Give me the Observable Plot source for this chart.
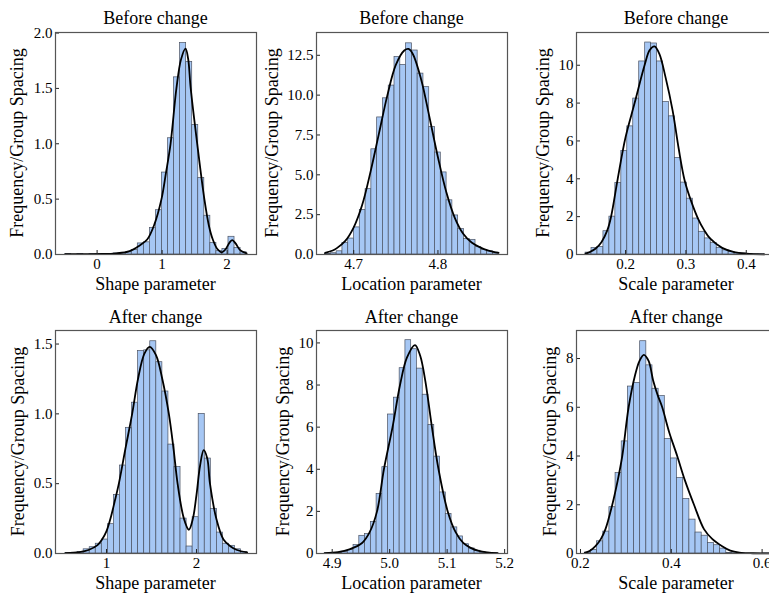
<!DOCTYPE html>
<html><head><meta charset="utf-8">
<script src="https://cdn.jsdelivr.net/npm/d3@7"></script>
<script src="https://cdn.jsdelivr.net/npm/@observablehq/plot@0.6"></script>
<style>
html,body{margin:0;padding:0;background:#fff;overflow:hidden}
#fig{position:relative;width:769px;height:597px;overflow:hidden;background:#fff}
#fig svg{position:absolute;overflow:visible}
</style></head><body><div id="fig"></div>
<script>
// ---------- Data ----------
// Histogram heights (Frequency / group spacing), 30 equal bins per panel
const shapeBeforeBinStart = -0.49, shapeBeforeBinWidth = 0.093;
const shapeBeforeHeights = [0.003,0,0.003,0,0.003,0.005,0.005,0.005,0.01,0.015,0.02,0.04,0.10,0.11,0.24,0.40,0.74,1.05,1.60,1.91,1.74,1.17,0.69,0.35,0.105,0.03,0.05,0.16,0.06,0.02];
const shapeBeforeKdeX = [-0.49,0,0.3,0.5,0.65,0.77,0.88,0.99,1.06,1.13,1.22,1.29,1.36,1.40,1.44,1.54,1.65,1.72,1.78,1.85,1.92,1.98,2.04,2.08,2.13,2.20,2.30];
const shapeBeforeKdeY = [0.003,0.004,0.01,0.03,0.08,0.135,0.27,0.5,0.74,1.0,1.5,1.76,1.86,1.77,1.5,1.0,0.5,0.26,0.135,0.05,0.02,0.05,0.11,0.13,0.10,0.04,0.01];

const locBeforeBinStart = 4.666, locBeforeBinWidth = 0.00687;
const locBeforeHeights = [0.03,0.08,0.2,0.73,1.0,1.7,2.8,4.1,6.6,8.6,9.8,10.6,12.4,11.9,13.25,12.8,11.35,10.5,8.0,6.4,5.15,3.4,2.45,1.6,0.98,0.92,0.46,0.29,0.2,0.12];
const locBeforeKdeX = [4.666,4.675,4.68,4.69,4.70,4.71,4.72,4.73,4.74,4.75,4.76,4.765,4.77,4.78,4.79,4.80,4.81,4.82,4.83,4.84,4.85,4.86,4.872];
const locBeforeKdeY = [0.1,0.25,0.4,0.85,1.7,3.1,5.2,7.6,10.0,11.9,12.8,12.9,12.6,11.0,8.6,6.1,3.9,2.3,1.3,0.75,0.45,0.25,0.1];

const scaleBeforeBinStart = 0.1337, scaleBeforeBinWidth = 0.00988;
const scaleBeforeHeights = [0.1,0.35,0.4,1.23,2.0,3.77,5.47,6.77,8.24,10.2,11.2,11.15,10.2,8.06,7.3,5.1,3.8,2.95,1.9,1.2,0.85,0.6,0.35,0.22,0.13,0.07,0.05,0.03,0.01,0.01];
const scaleBeforeKdeX = [0.1337,0.14,0.15,0.16,0.17,0.176,0.187,0.20,0.215,0.2315,0.24,0.248,0.256,0.266,0.278,0.288,0.298,0.31,0.32,0.33,0.34,0.36,0.38,0.40,0.43];
const scaleBeforeKdeY = [0.05,0.12,0.3,0.65,1.3,2.0,4.0,6.2,8.0,10.0,10.8,11.0,10.6,9.4,7.6,5.6,3.9,2.7,1.9,1.3,0.85,0.35,0.13,0.05,0.01];

const shapeAfterBinStart = 0.544, shapeAfterBinWidth = 0.0673;
const shapeAfterHeights = [0.003,0.005,0.01,0.03,0.045,0.07,0.10,0.21,0.42,0.63,0.90,1.08,1.45,1.455,1.52,1.37,1.16,0.78,0.62,0.25,0.05,0.26,1.0,0.68,0.32,0.15,0.07,0.055,0.03,0.01];
const shapeAfterKdeX = [0.544,0.7,0.8,0.9,0.95,1.0,1.044,1.09,1.137,1.21,1.285,1.35,1.42,1.48,1.55,1.62,1.693,1.745,1.79,1.86,1.915,1.96,2.0,2.04,2.08,2.12,2.15,2.22,2.30,2.38,2.45,2.563];
const shapeAfterKdeY = [0.003,0.01,0.025,0.06,0.1,0.16,0.25,0.37,0.5,0.75,1.0,1.25,1.43,1.48,1.42,1.25,1.0,0.75,0.5,0.25,0.17,0.25,0.42,0.63,0.74,0.68,0.5,0.25,0.1,0.05,0.025,0.008];

const locAfterBinStart = 4.887, locAfterBinWidth = 0.01003;
const locAfterHeights = [0.01,0.02,0.03,0.08,0.17,0.4,0.84,0.92,1.5,2.83,4.1,6.6,7.4,8.8,10.13,9.7,8.78,7.54,6.1,4.6,2.9,1.87,1.24,0.81,0.44,0.24,0.13,0.05,0.02,0.01];
const locAfterKdeX = [4.887,4.91,4.93,4.952,4.965,4.978,4.99,5.005,5.018,5.03,5.044,5.053,5.062,5.073,5.085,5.101,5.115,5.128,5.14,5.155,5.17,5.188];
const locAfterKdeY = [0.02,0.07,0.2,0.5,1.0,2.0,4.0,6.0,8.0,9.3,9.9,9.4,8.2,6.1,4.0,2.0,1.0,0.5,0.28,0.12,0.05,0.015];

const scaleAfterBinStart = 0.2095, scaleAfterBinWidth = 0.01355;
const scaleAfterHeights = [0.04,0.15,0.5,0.9,1.9,3.3,4.6,6.85,7.0,8.71,7.72,6.76,6.46,4.7,3.9,3.1,2.24,1.39,0.86,0.73,0.43,0.34,0.2,0.02,0.01,0.01,0,0,0,0.003];
const scaleAfterKdeX = [0.2095,0.22,0.233,0.245,0.255,0.27,0.282,0.292,0.306,0.32,0.33,0.3395,0.35,0.36,0.37,0.38,0.395,0.413,0.43,0.45,0.472,0.49,0.512,0.53,0.55,0.58,0.615];
const scaleAfterKdeY = [0.03,0.1,0.3,0.6,1.0,2.0,3.0,4.0,6.0,7.3,7.9,8.15,7.9,7.1,6.5,6.0,5.0,4.0,3.0,2.0,1.0,0.6,0.3,0.12,0.04,0.01,0.003];

// Labels and ticks
const titles = ["Before change","Before change","Before change","After change","After change","After change"];
const xLabels = ["Shape parameter","Location parameter","Scale parameter","Shape parameter","Location parameter","Scale parameter"];
const yLabel = "Frequency/Group Spacing";
const xTickValues = [[0,1,2],[4.7,4.8],[0.2,0.3,0.4],[1,2],[4.9,5.0,5.1,5.2],[0.2,0.4,0.6]];
const xTickFormats = ["d",".1f",".1f","d",".1f",".1f"];
const yTickValues = [[0,0.5,1,1.5,2],[0,2.5,5,7.5,10,12.5],[0,2,4,6,8,10],[0,0.5,1,1.5],[0,2,4,6,8,10],[0,2,4,6,8]];
const yTickFormats = [".1f",".1f","d",".1f","d","d"];

// ---------- Layout ----------
const layout = [
  {frame:[55,32,256,254], xDomain:[-0.64,2.452], yMax:2.005, ylabX:22.5, titleY:24, xlabY:289.5},
  {frame:[316,32,507,254], xDomain:[4.6558,4.8826], yMax:13.93, ylabX:277.5, titleY:24, xlabY:289.5},
  {frame:[576,32,776,254], xDomain:[0.1187,0.4501], yMax:11.73, ylabX:549, titleY:24, xlabY:289.5},
  {frame:[55,330,256,553], xDomain:[0.433,2.667], yMax:1.597, ylabX:24, titleY:322.5, xlabY:588.5},
  {frame:[316,330,507,553], xDomain:[4.8727,5.205], yMax:10.59, ylabX:289, titleY:322.5, xlabY:588.5},
  {frame:[576,330,776,553], xDomain:[0.1912,0.6317], yMax:9.15, ylabX:556, titleY:322.5, xlabY:588.5}
];
const series = [
  [shapeBeforeBinStart,shapeBeforeBinWidth,shapeBeforeHeights,shapeBeforeKdeX,shapeBeforeKdeY],
  [locBeforeBinStart,locBeforeBinWidth,locBeforeHeights,locBeforeKdeX,locBeforeKdeY],
  [scaleBeforeBinStart,scaleBeforeBinWidth,scaleBeforeHeights,scaleBeforeKdeX,scaleBeforeKdeY],
  [shapeAfterBinStart,shapeAfterBinWidth,shapeAfterHeights,shapeAfterKdeX,shapeAfterKdeY],
  [locAfterBinStart,locAfterBinWidth,locAfterHeights,locAfterKdeX,locAfterKdeY],
  [scaleAfterBinStart,scaleAfterBinWidth,scaleAfterHeights,scaleAfterKdeX,scaleAfterKdeY]
];

const fig = document.getElementById("fig");
const FONT = "'Liberation Serif','Times New Roman',serif";
const mL = 60, mR = 6, mT = 6, mB = 30;

series.forEach(([start, width, heights, kx, ky], i) => {
  const L = layout[i];
  const [x0, y0, x1, y1] = L.frame;
  const bins = heights.map((h, k) => ({x1: start + k * width, x2: start + (k + 1) * width, y: h}));
  const kde = kx.map((x, k) => ({x, y: ky[k]}));
  const svg = Plot.plot({
    width: (x1 - x0) + mL + mR,
    height: (y1 - y0) + mT + mB,
    marginLeft: mL, marginRight: mR, marginTop: mT, marginBottom: mB,
    style: {fontFamily: FONT, fontSize: "15px", color: "#000", background: "transparent", maxWidth: "none"},
    x: {domain: L.xDomain, label: null},
    y: {domain: [0, L.yMax], label: null},
    marks: [
      Plot.rectY(bins, {x1: "x1", x2: "x2", y: "y", fill: "#a6c7f4", stroke: "#4a5262", strokeWidth: 0.7}),
      Plot.line(kde, {x: "x", y: "y", stroke: "#000", strokeWidth: 1.8, curve: "catmull-rom"}),
      Plot.axisX(xTickValues[i], {tickSize: -4, tickPadding: 8, tickFormat: d3.format(xTickFormats[i]), label: null, fontSize: 15, stroke: "#222"}),
      Plot.axisY(yTickValues[i], {tickSize: -4, tickPadding: 7, tickFormat: d3.format(yTickFormats[i]), label: null, fontSize: 15, stroke: "#222"}),
      Plot.frame({stroke: "#555", strokeWidth: 1.2})
    ]
  });
  svg.style.left = (x0 - mL) + "px";
  svg.style.top = (y0 - mT) + "px";
  fig.appendChild(svg);
});

// Text overlay: titles, axis labels
const ns = "http://www.w3.org/2000/svg";
const over = document.createElementNS(ns, "svg");
over.setAttribute("width", 769); over.setAttribute("height", 597);
over.style.left = "0px"; over.style.top = "0px";
function addText(str, x, y, rot) {
  const t = document.createElementNS(ns, "text");
  t.textContent = str;
  t.setAttribute("text-anchor", "middle");
  t.setAttribute("font-family", FONT);
  t.setAttribute("font-size", "18");
  t.setAttribute("fill", "#000");
  t.setAttribute("transform", `translate(${x},${y})` + (rot ? ` rotate(${rot})` : ""));
  over.appendChild(t);
}
layout.forEach((L, i) => {
  const [x0, y0, x1, y1] = L.frame;
  const cx = (x0 + x1) / 2, cy = (y0 + y1) / 2;
  addText(titles[i], cx, L.titleY);
  addText(xLabels[i], cx, L.xlabY);
  addText(yLabel, L.ylabX, cy, -90);
});
fig.appendChild(over);
</script></body></html>
